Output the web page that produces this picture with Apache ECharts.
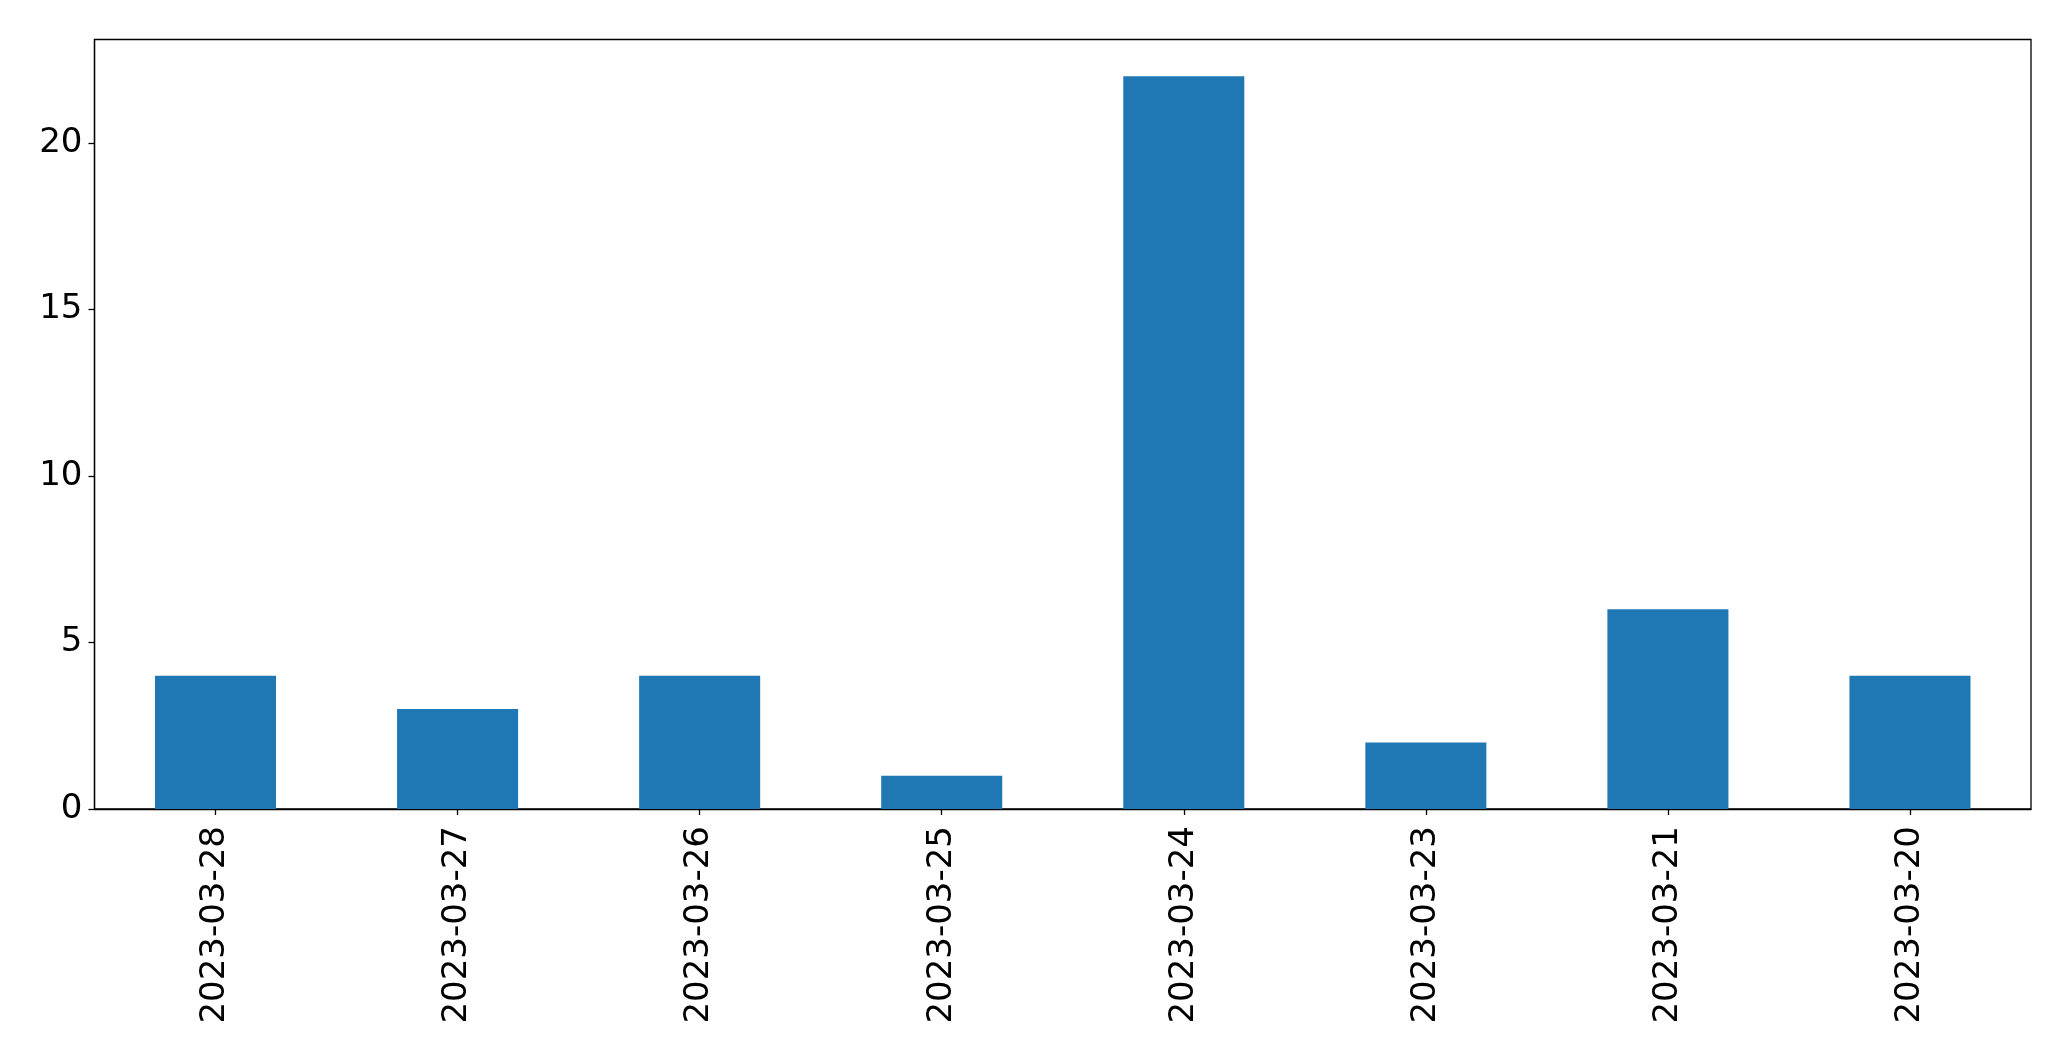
<!DOCTYPE html>
<html>
<head>
<meta charset="utf-8">
<script src="https://cdn.jsdelivr.net/npm/echarts@6/dist/echarts.min.js"></script>
<style>
html,body{margin:0;padding:0;background:#fff;}
#chart{width:2071px;height:1061px;}
</style>
</head>
<body>
<div id="chart"></div>
<script>
const categories = ["2023-03-28","2023-03-27","2023-03-26","2023-03-25","2023-03-24","2023-03-23","2023-03-21","2023-03-20"];
const values = [4, 3, 4, 1, 22, 2, 6, 4];
const yTicks = [0, 5, 10, 15, 20];

const chart = echarts.init(document.getElementById('chart'), null, {renderer: 'canvas'});
const font = "DejaVu Sans";
chart.setOption({
  animation: false,
  backgroundColor: '#ffffff',
  grid: {
    left: 94.5, right: 40, top: 39.5, bottom: 252,
    show: true, borderColor: '#000', borderWidth: 1.3, backgroundColor: 'transparent',
    containLabel: false
  },
  xAxis: {
    type: 'category',
    data: categories,
    boundaryGap: true,
    axisLine: {show: true, lineStyle: {color: '#000', width: 1.3}},
    axisTick: {show: true, alignWithLabel: true, length: 6, lineStyle: {color: '#000', width: 1.3}},
    axisLabel: {rotate: 90, margin: 17, fontFamily: font, fontSize: 34, color: '#000', interval: 0},
    splitLine: {show: false}
  },
  yAxis: {
    type: 'value',
    min: 0, max: 23.1, interval: 5,
    axisLine: {show: true, lineStyle: {color: '#000', width: 1.3}},
    axisTick: {show: true, length: 6, lineStyle: {color: '#000', width: 1.3}, customValues: yTicks},
    axisLabel: {margin: 12, fontFamily: font, fontSize: 34, color: '#000', customValues: yTicks},
    splitLine: {show: false}
  },
  series: [{
    type: 'bar',
    data: values,
    barWidth: '50%',
    itemStyle: {color: '#1f77b4'}
  }]
});
</script>
</body>
</html>
